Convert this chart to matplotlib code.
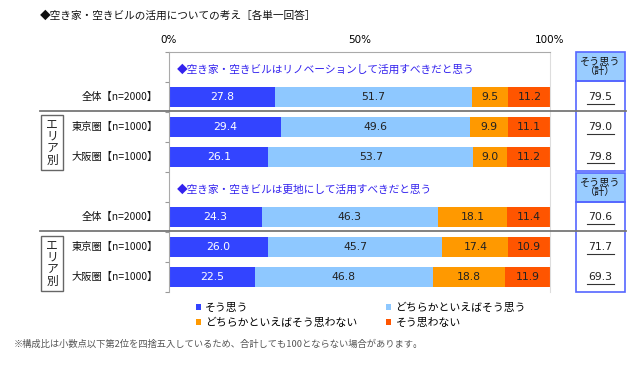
import matplotlib
matplotlib.use("Agg")
import matplotlib.pyplot as plt
from matplotlib.patches import Rectangle
from matplotlib.lines import Line2D

plt.rcParams['font.family'] = ['Noto Sans CJK JP', 'DejaVu Sans']

title = '◆空き家・空きビルの活用についての考え［各単一回答］'
subtitles = ['◆空き家・空きビルはリノベーションして活用すべきだと思う',
             '◆空き家・空きビルは更地にして活用すべきだと思う']
categories = ['全体【n=2000】', '東京圏【n=1000】', '大阪圏【n=1000】',
              '全体【n=2000】', '東京圏【n=1000】', '大阪圏【n=1000】']
series_names = ['そう思う', 'どちらかといえばそう思う',
                'どちらかといえばそう思わない', 'そう思わない']
sou = [27.8, 29.4, 26.1, 24.3, 26.0, 22.5]
dochira_sou = [51.7, 49.6, 53.7, 46.3, 45.7, 46.8]
dochira_nai = [9.5, 9.9, 9.0, 18.1, 17.4, 18.8]
sou_nai = [11.2, 11.1, 11.2, 11.4, 10.9, 11.9]
totals = [79.5, 79.0, 79.8, 70.6, 71.7, 69.3]
total_header = 'そう思う\n（計）'
area_label = 'エ\nリ\nア\n別'
xtick_vals = [0, 50, 100]
xtick_labels = ['0%', '50%', '100%']
footnote = '※構成比は小数点以下第2位を四捨五入しているため、合計しても100とならない場合があります。'

colors = ['#3344FF', '#8EC8FF', '#FF9900', '#FF5500']
text_colors = ['white', '#222222', '#222222', '#222222']

W, H = 640, 368
fig = plt.figure(figsize=(W / 100, H / 100), dpi=100)

def fx(px):
    return px / W

def fy(py):
    return 1 - py / H

ax = fig.add_axes([fx(169), fy(292), fx(550) - fx(169), fy(52) - fy(292)])

positions = [1, 2, 3, 5, 6, 7]
series = [sou, dochira_sou, dochira_nai, sou_nai]
left = [0.0] * len(positions)
handles = []
for vals, col, tc, name in zip(series, colors, text_colors, series_names):
    bars = ax.barh(positions, vals, left=left, height=0.66, color=col, label=name)
    handles.append(bars)
    for p, v, l in zip(positions, vals, left):
        ax.text(l + v / 2, p, f'{v:.1f}', ha='center', va='center',
                color=tc, fontsize=7.8, family=['DejaVu Sans'])
    left = [a + b for a, b in zip(left, vals)]

ax.set_xlim(0, 100)
ax.set_ylim(7.5, -0.5)
ax.xaxis.tick_top()
ax.set_xticks(xtick_vals)
ax.set_xticklabels(xtick_labels, fontsize=7.5, family=['DejaVu Sans'])
ax.tick_params(axis='x', length=0, pad=5)
ax.set_yticks([i - 0.5 for i in range(9)])
ax.set_yticklabels([])
ax.tick_params(axis='y', length=3, color='#999999')
ax.spines['bottom'].set_visible(False)
ax.spines['right'].set_color('#dddddd')
ax.spines['left'].set_color('#aaaaaa')
ax.spines['top'].set_color('#aaaaaa')

# subtitles
for sp, st in zip([0, 4], subtitles):
    ax.text(2, sp + 0.1, st, ha='left', va='center', color='#3322EE', fontsize=7.7)

# category labels
for p, c in zip(positions, categories):
    ax.annotate(c, xy=(0, p), xycoords=('axes fraction', 'data'),
                xytext=(-8, 0), textcoords='offset points',
                ha='right', va='center', fontsize=7.4, color='#111111')

# title
fig.text(fx(40), fy(16), title, ha='left', va='center', fontsize=7.7, color='#111111')

# separator lines
for py in [111, 231]:
    fig.add_artist(Line2D([fx(40), fx(626)], [fy(py), fy(py)],
                          transform=fig.transFigure, color='#777777', lw=1.3))

# area boxes
for top, bot in [(115, 170), (236, 291)]:
    fig.add_artist(Rectangle((fx(41), fy(bot)), fx(63) - fx(41), fy(top) - fy(bot),
                             transform=fig.transFigure, fill=False,
                             edgecolor='#666666', lw=1))
    fig.text(fx(52), fy((top + bot) / 2), area_label, ha='center', va='center',
             fontsize=8.5, linespacing=0.9, color='#222222')

# total boxes
for (top, hb, bot) in [(52, 81, 171), (173, 202, 292)]:
    fig.add_artist(Rectangle((fx(576), fy(hb)), fx(625) - fx(576), fy(top) - fy(hb),
                             transform=fig.transFigure, facecolor='#99CCFF',
                             edgecolor='#5566FF', lw=1.2))
    fig.add_artist(Rectangle((fx(576), fy(bot)), fx(625) - fx(576), fy(hb) - fy(bot),
                             transform=fig.transFigure, fill=False,
                             edgecolor='#5566FF', lw=1.2))
    fig.text(fx(600.5), fy((top + hb) / 2), total_header, ha='center', va='center',
             fontsize=7.3, linespacing=0.95, color='#111111')

# totals with underline
for p, t in zip(positions, totals):
    ax.annotate(f'{t:.1f}', xy=(1, p), xycoords=('axes fraction', 'data'),
                xytext=(50.5 * 0.72, 0), textcoords='offset points',
                ha='center', va='center', fontsize=7.8, color='#222222',
                family=['DejaVu Sans'])
fig.canvas.draw()
for p in positions:
    y_pix = ax.transData.transform((0, p))[1]
    yy = (y_pix - 6.5) / H
    fig.add_artist(Line2D([fx(587), fx(614)], [yy, yy], transform=fig.transFigure,
                          color='#333333', lw=0.8))

# legend
order = [0, 2, 1, 3]
fig.legend([handles[i] for i in order], [series_names[i] for i in order],
           loc='upper left', bbox_to_anchor=(fx(188), fy(295)), ncol=2,
           frameon=False, fontsize=7.8, handlelength=0.5, handleheight=0.5,
           handletextpad=0.4, columnspacing=2.6, labelspacing=0.45,
           borderpad=0.2)

fig.text(fx(14), fy(344), footnote, ha='left', va='center', fontsize=6.7, color='#555555')

fig.savefig('out.png', dpi=100)
